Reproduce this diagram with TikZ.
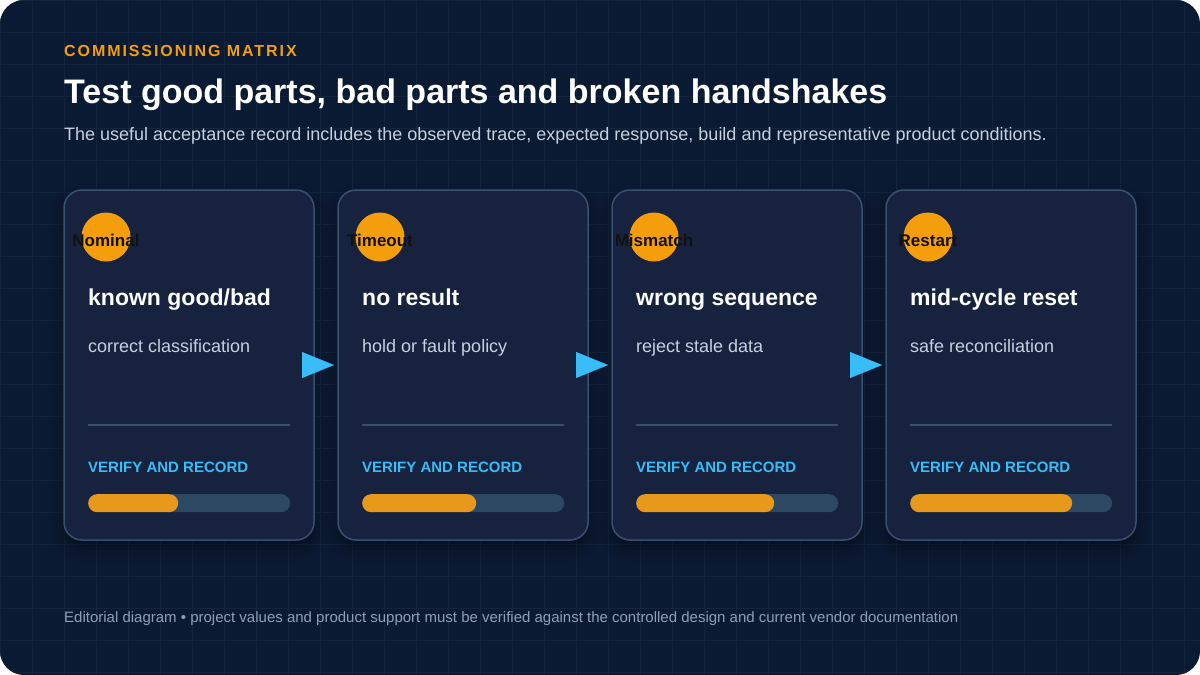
\documentclass[tikz,border=0pt]{standalone}
\usepackage{fontspec}
\setmainfont{Liberation Sans}
\usetikzlibrary{positioning,arrows.meta,shadows.blur}

\definecolor{pagebg}{HTML}{0B1A33}
\definecolor{gridline}{HTML}{13243D}
\definecolor{cardbg}{HTML}{17223F}
\definecolor{cardedge}{HTML}{38516F}
\definecolor{amber}{HTML}{F59E0B}
\definecolor{barfill}{HTML}{E8991C}
\definecolor{trackbg}{HTML}{2C4862}
\definecolor{sky}{HTML}{38BDF8}
\definecolor{rulecol}{HTML}{34506C}
\definecolor{softtext}{HTML}{C6D0DE}
\definecolor{foottext}{HTML}{8EA0B8}
\definecolor{ink}{HTML}{111111}

\tikzset{
  card/.style={draw=cardedge, fill=cardbg, line width=1.5pt, rounded corners=18pt,
    minimum width=250pt, minimum height=350pt, inner sep=0pt, outer sep=0pt,
    blur shadow={shadow xshift=0pt, shadow yshift=-8pt, shadow blur radius=14pt, shadow opacity=45}},
  badge/.style={circle, fill=amber, minimum size=49pt, inner sep=0pt},
  badgetext/.style={anchor=base, inner sep=0pt, font=\fontsize{17}{20}\selectfont\bfseries, text=ink},
  ctitle/.style={anchor=base west, inner sep=0pt, font=\fontsize{23}{27}\selectfont\bfseries, text=white},
  csub/.style={anchor=base west, inner sep=0pt, font=\fontsize{18}{21}\selectfont, text=softtext},
  ctag/.style={anchor=base west, inner sep=0pt, font=\fontsize{15}{18}\selectfont\bfseries, text=sky},
  track/.style={anchor=north west, fill=trackbg, rounded corners=9pt, minimum width=202pt, minimum height=18pt, inner sep=0pt},
  meter/.style={anchor=north west, fill=barfill, rounded corners=9pt, minimum height=18pt, inner sep=0pt},
  divider/.style={draw=rulecol, line width=1.5pt},
  flow/.style={draw=sky, line width=0.1pt, -{Triangle[length=32pt,width=26pt]}},
}

\begin{document}
\begin{tikzpicture}[x=1pt, y=-1pt]

  % Page
  \useasboundingbox (0,0) rectangle (1200,675);
  \fill[white] (0,0) rectangle (1200,675);
  \begin{scope}
    \clip[rounded corners=24pt] (0,0) rectangle (1200,675);
    \fill[pagebg] (0,0) rectangle (1200,675);
    \draw[gridline, line width=0.8pt, step=32pt] (0,0) grid (1200,675);
  \end{scope}

  % Header
  \node[anchor=base west, inner sep=0pt, text=amber,
        font=\fontsize{16}{19}\selectfont\bfseries\addfontfeatures{LetterSpace=12}] (kicker) at (64,56) {COMMISSIONING MATRIX};
  \node[anchor=base west, inner sep=0pt, text=white,
        font=\fontsize{34}{40}\selectfont\bfseries] (headline) at (64,103) {Test good parts, bad parts and broken handshakes};
  \node[anchor=base west, inner sep=0pt, text=softtext,
        font=\fontsize{18}{21}\selectfont] (lede) at (64,140) {The useful acceptance record includes the observed trace, expected response, build and representative product conditions.};

  % Define nodes
  \node[card, anchor=north west]    (c1) at (64,190) {};
  \node[card, right=24pt of c1]     (c2) {};
  \node[card, right=24pt of c2]     (c3) {};
  \node[card, right=24pt of c3]     (c4) {};

  \node[badge] (b1) at ([shift={(42,47)}]c1.north west) {};
  \node[badge] (b2) at ([shift={(42,47)}]c2.north west) {};
  \node[badge] (b3) at ([shift={(42,47)}]c3.north west) {};
  \node[badge] (b4) at ([shift={(42,47)}]c4.north west) {};
  \node[badgetext] (bl1) at ([yshift=-9pt]b1.center) {Nominal};
  \node[badgetext] (bl2) at ([yshift=-9pt]b2.center) {Timeout};
  \node[badgetext] (bl3) at ([yshift=-9pt]b3.center) {Mismatch};
  \node[badgetext] (bl4) at ([yshift=-9pt]b4.center) {Restart};

  \node[ctitle] (t1) at ([shift={(24,115)}]c1.north west) {known good/bad};
  \node[ctitle] (t2) at ([shift={(24,115)}]c2.north west) {no result};
  \node[ctitle] (t3) at ([shift={(24,115)}]c3.north west) {wrong sequence};
  \node[ctitle] (t4) at ([shift={(24,115)}]c4.north west) {mid-cycle reset};

  \node[csub] (s1) at ([shift={(24,162)}]c1.north west) {correct classification};
  \node[csub] (s2) at ([shift={(24,162)}]c2.north west) {hold or fault policy};
  \node[csub] (s3) at ([shift={(24,162)}]c3.north west) {reject stale data};
  \node[csub] (s4) at ([shift={(24,162)}]c4.north west) {safe reconciliation};

  \draw[divider] ([shift={(24,235)}]c1.north west) -- ([shift={(226,235)}]c1.north west);
  \draw[divider] ([shift={(24,235)}]c2.north west) -- ([shift={(226,235)}]c2.north west);
  \draw[divider] ([shift={(24,235)}]c3.north west) -- ([shift={(226,235)}]c3.north west);
  \draw[divider] ([shift={(24,235)}]c4.north west) -- ([shift={(226,235)}]c4.north west);

  \node[ctag] (v1) at ([shift={(24,282)}]c1.north west) {VERIFY AND RECORD};
  \node[ctag] (v2) at ([shift={(24,282)}]c2.north west) {VERIFY AND RECORD};
  \node[ctag] (v3) at ([shift={(24,282)}]c3.north west) {VERIFY AND RECORD};
  \node[ctag] (v4) at ([shift={(24,282)}]c4.north west) {VERIFY AND RECORD};

  \node[track] (p1) at ([shift={(24,304)}]c1.north west) {};
  \node[track] (p2) at ([shift={(24,304)}]c2.north west) {};
  \node[track] (p3) at ([shift={(24,304)}]c3.north west) {};
  \node[track] (p4) at ([shift={(24,304)}]c4.north west) {};
  \node[meter, minimum width=90pt]  (m1) at (p1.north west) {};
  \node[meter, minimum width=114pt] (m2) at (p2.north west) {};
  \node[meter, minimum width=138pt] (m3) at (p3.north west) {};
  \node[meter, minimum width=162pt] (m4) at (p4.north west) {};

  % Connect the nodes
  \draw[flow] ([xshift=-12pt]c1.east) -- ([xshift=-4pt]c2.west);
  \draw[flow] ([xshift=-12pt]c2.east) -- ([xshift=-4pt]c3.west);
  \draw[flow] ([xshift=-12pt]c3.east) -- ([xshift=-4pt]c4.west);

  % Footer
  \node[anchor=base west, inner sep=0pt, text=foottext,
        font=\fontsize{15}{18}\selectfont] (note) at (64,622) {Editorial diagram • project values and product support must be verified against the controlled design and current vendor documentation};

\end{tikzpicture}
\end{document}
